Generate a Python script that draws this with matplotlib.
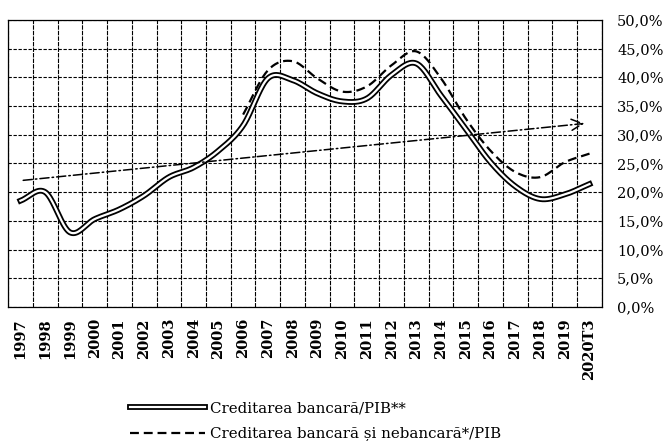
import numpy as np
import matplotlib
matplotlib.use("Agg")
from matplotlib import pyplot as plt
from matplotlib import patheffects as pe

#--------
# Data:
#--------
years = ["1997", "1998", "1999", "2000", "2001", "2002", "2003", "2004",
         "2005", "2006", "2007", "2008", "2009", "2010", "2011", "2012",
         "2013", "2014", "2015", "2016", "2017", "2018", "2019", "2020T3"]

bank = [18.5, 20.0, 13.0, 15.3, 17.0, 19.4, 22.6, 24.3, 27.2, 31.6, 39.8, 39.5,
        37.2, 35.8, 36.3, 40.4, 42.4, 36.8, 31.0, 25.2, 21.0, 18.8, 19.6, 21.4]

# bank + non-bank credit, available from 2006 on
total_start = 9
total = [33.5, 41.2, 42.8, 39.8, 37.5, 38.4, 42.1, 44.5, 39.8, 32.8, 27.2,
         23.5, 22.6, 25.2, 26.7]

trend_start, trend_end = 22.0, 32.0

lbl_bank = "Creditarea bancară/PIB**"
lbl_total = "Creditarea bancară și nebancară*/PIB"

#----------------------
# Smooth (Excel-like) curve through the points:
#----------------------
def smooth(x, y, n=20):
    x, y = np.asarray(x, float), np.asarray(y, float)
    px = np.concatenate([[2*x[0]-x[1]], x, [2*x[-1]-x[-2]]])
    py = np.concatenate([[2*y[0]-y[1]], y, [2*y[-1]-y[-2]]])
    t = np.linspace(0, 1, n, endpoint=False)[:, None]
    xs, ys = [], []
    for i in range(1, len(px)-2):
        for p, out in ((px, xs), (py, ys)):
            p0, p1, p2, p3 = p[i-1], p[i], p[i+1], p[i+2]
            out.append((0.5*(2*p1 + (-p0+p2)*t + (2*p0-5*p1+4*p2-p3)*t**2
                        + (-p0+3*p1-3*p2+p3)*t**3)).ravel())
    return np.concatenate(xs + [[x[-1]]]), np.concatenate(ys + [[y[-1]]])

#-----------
# Plotting:
#-----------
plt.rcParams["font.family"] = ["DejaVu Serif"]

fig = plt.figure(figsize=(6.71, 4.41), dpi=100)
ax = fig.add_axes([0.012, 0.304, 0.885, 0.651])

xi = np.arange(len(years))

sx, sy = smooth(xi, bank)
ax.plot(sx, sy, color="white", lw=1.6, label=lbl_bank,
        path_effects=[pe.withStroke(linewidth=4.2, foreground="black")])

tx = xi[total_start:]
sx, sy = smooth(tx, total)
ax.plot(sx, sy, color="black", lw=1.6, ls=(0, (4, 2.2)), label=lbl_total)

ax.annotate("", xy=(xi[-1] - 0.1, trend_end), xytext=(xi[0], trend_start),
            arrowprops=dict(arrowstyle="->,head_length=0.8,head_width=0.4",
                            color="black", lw=1.1, ls=(0, (6, 2, 1, 2))))

ax.set_xlim(-0.5, len(years) - 0.5)
ax.set_ylim(0, 50)
ax.set_yticks(np.arange(0, 51, 5))
ax.set_yticklabels([f"{v:.1f}%".replace(".", ",") for v in np.arange(0, 51, 5)])
ax.yaxis.tick_right()
ax.tick_params(axis="y", length=0, pad=11, labelsize=10.5)

ax.set_xticks(xi)
ax.set_xticklabels(years, rotation=90, fontsize=10.5, fontweight="bold", va="top")
ax.tick_params(axis="x", length=0, pad=8)
ax.set_xticks(np.arange(-0.5, len(years)), minor=True)
ax.tick_params(axis="x", which="minor", length=0)

ax.grid(axis="x", which="minor", color="black", lw=0.8, ls=(0, (4, 1)))
ax.grid(axis="y", which="major", color="black", lw=0.8, ls=(0, (3, 1.5)))
ax.grid(axis="x", which="major", visible=False)
for s in ax.spines.values():
    s.set_linewidth(0.9)

leg = fig.legend(loc="upper left", bbox_to_anchor=(0.185, 0.104), frameon=False,
                 handlelength=5.0, handletextpad=0.3, labelspacing=0.8,
                 fontsize=10.8, borderaxespad=0)

fig.savefig("out.png", dpi=100)
